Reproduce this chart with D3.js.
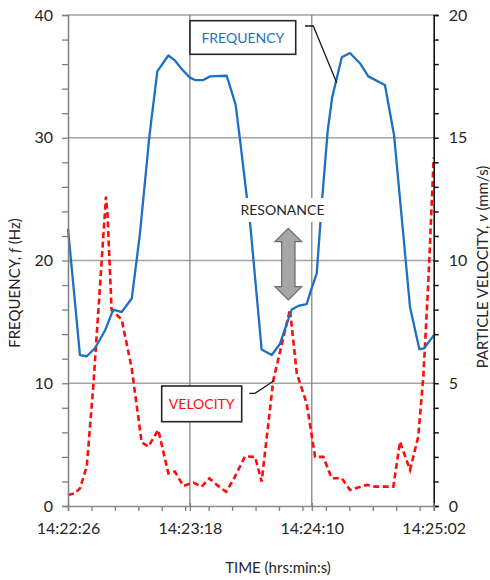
<!DOCTYPE html>
<html>
<head>
<meta charset="utf-8">
<script src="https://cdn.jsdelivr.net/npm/d3@7"></script>
<style>
    body { margin: 0; background: #fff; }
    text { font-family: Lato, "Open Sans", sans-serif; }
</style>
</head>
<body>
<div class="resonanceChart"></div>
<script>
// times are seconds after 14:22:26
var freqTimes = [0, 5.1, 8.0, 11.5, 15.8, 19.3, 22.9, 27.2, 30.7, 34.7, 38.1, 42.8, 45.6, 48.5, 52.0, 54.2,
    57.7, 60.6, 67.7, 71.5, 73.4, 76.2, 77.6, 82.6, 86.9, 90.4, 95.4, 98.2, 101.8, 103.7, 106.1, 108.5,
    110.8, 112.7, 116.8, 120.3, 124.6, 128.1, 135.2, 139.1, 145.9, 149.9, 151.9, 156];
var freqValues = [22.6, 12.3, 12.2, 12.85, 14.3, 16.0, 15.8, 16.9, 22.2, 30.1, 35.4, 36.7, 36.3, 35.6, 34.9, 34.7,
    34.7, 35.0, 35.05, 32.7, 29.8, 25.3, 23.2, 12.75, 12.3, 13.2, 16.0, 16.3, 16.45, 17.6, 18.96, 25.2,
    30.6, 33.3, 36.55, 36.9, 36.05, 35.0, 34.3, 30.2, 16.2, 12.77, 12.85, 13.9];

var velTimes = [0, 3.0, 5.1, 8.0, 10.8, 16.2, 16.9, 18.6, 22.9, 27.2, 31.4, 34.3, 38.5, 42.8, 45.6, 49.2,
    53.5, 57.0, 60.3, 63.6, 67.4, 70.5, 75.5, 79.8, 82.6, 87.6, 94.7, 97.6, 101.8, 105.4, 108.9, 112.5,
    116.8, 120.3, 127.4, 131.0, 138.8, 141.6, 145.9, 149.4, 151.6, 153.7, 156];
var velValues = [0.45, 0.52, 0.72, 1.6, 4.9, 12.6, 11.8, 7.98, 7.6, 5.6, 2.6, 2.42, 3.1, 1.33, 1.4, 0.82,
    0.95, 0.79, 1.13, 0.85, 0.58, 1.06, 2.02, 2.0, 0.99, 5.13, 8.0, 5.4, 4.18, 2.0, 2.0, 1.13,
    1.13, 0.65, 0.86, 0.79, 0.79, 2.62, 1.47, 2.82, 5.3, 9.1, 14.2];

var timeLabels = ["14:22:26", "14:23:18", "14:24:10", "14:25:02"];
var freqTicks = [0, 10, 20, 30, 40];
var velTicks = [0, 5, 10, 15, 20];

document.addEventListener('DOMContentLoaded', function() {
    resonanceChart();
})

function resonanceChart(){

    var margin = {top: 15, right: 56.3, bottom: 74, left: 68},
        width = 490 - margin.left - margin.right,
        height = 580 - margin.top - margin.bottom;

    var blue = "#1f70c1", red = "#ff0d0d", ink = "#262626";

    var root = d3.select(".resonanceChart")
        .append("svg")
            .attr("width", 490)
            .attr("height", 580);
    var svg = root.append("g")
            .attr("transform", "translate(" + margin.left + "," + margin.top + ")");

    var parseTime = d3.timeParse("%H:%M:%S");
    var start = parseTime(timeLabels[0]);
    function toDate(t) { return new Date(+start + t * 1000); }

    var freqData = freqTimes.map(function(t, i) { return {date: toDate(t), value: freqValues[i]}; });
    var velData = velTimes.map(function(t, i) { return {date: toDate(t), value: velValues[i]}; });
    var majorDates = timeLabels.map(parseTime);
    var minorDates = d3.range(10, 156, 10).map(toDate);

    var x = d3.scaleTime()
        .domain([start, majorDates[majorDates.length - 1]])
        .range([0, width]);
    var yFreq = d3.scaleLinear()
        .domain([0, d3.max(freqTicks)])
        .range([height, 0]);
    var yVel = d3.scaleLinear()
        .domain([0, d3.max(velTicks)])
        .range([height, 0]);

    // gridlines
    svg.selectAll(".hgrid")
        .data(freqTicks.slice(1))
        .enter().append("line")
            .attr("x1", 0).attr("x2", width)
            .attr("y1", function(d) { return yFreq(d); })
            .attr("y2", function(d) { return yFreq(d); })
            .attr("stroke", "#a3a3a3")
            .attr("stroke-width", 1.5);
    svg.selectAll(".vgrid")
        .data(majorDates.slice(1, -1))
        .enter().append("line")
            .attr("x1", function(d) { return x(d); })
            .attr("x2", function(d) { return x(d); })
            .attr("y1", 0).attr("y2", height)
            .attr("stroke", "#7a7a7a")
            .attr("stroke-width", 1.2);

    // lines
    var freqLine = d3.line()
        .x(function(d) { return x(d.date); })
        .y(function(d) { return yFreq(d.value); });
    var velLine = d3.line()
        .x(function(d) { return x(d.date); })
        .y(function(d) { return yVel(d.value); });

    svg.append("path")
        .attr("fill", "none")
        .attr("stroke", red)
        .attr("stroke-width", 2.6)
        .attr("stroke-dasharray", "6,3.5")
        .attr("d", velLine(velData));
    svg.append("path")
        .attr("fill", "none")
        .attr("stroke", blue)
        .attr("stroke-width", 2.3)
        .attr("stroke-linejoin", "round")
        .attr("d", freqLine(freqData));

    // axes
    var majorFreq = function(d) { return d % 10 === 0 ? d : ""; };
    var left = svg.append("g")
        .call(d3.axisLeft(yFreq).tickValues(d3.range(0, 41, 2)).tickFormat(majorFreq).tickSize(6).tickPadding(9));
    left.select(".domain").attr("stroke", "#7f7f7f").attr("stroke-width", 1.5);
    left.selectAll(".tick line").attr("stroke", "#7f7f7f").attr("stroke-width", 1.3);
    left.selectAll("text").attr("font-size", 16).attr("fill", ink).attr("font-family", "Lato");

    var right = svg.append("g")
        .attr("transform", "translate(" + width + ",0)")
        .call(d3.axisRight(yVel).tickValues(d3.range(0, 21, 1)).tickFormat(function(d) { return d % 5 === 0 ? d : ""; }).tickSize(5).tickPadding(10));
    right.select(".domain").attr("stroke", "#111").attr("stroke-width", 1.6);
    right.selectAll(".tick line").attr("stroke", "#111").attr("stroke-width", 1.5);
    right.selectAll("text").attr("font-size", 16).attr("fill", ink).attr("font-family", "Lato");

    var fmt = d3.timeFormat("%H:%M:%S");
    var bottom = svg.append("g")
        .attr("transform", "translate(0," + height + ")")
        .call(d3.axisBottom(x).tickValues(minorDates.concat(majorDates))
            .tickFormat(function(d) { return timeLabels.indexOf(fmt(d)) >= 0 ? fmt(d) : ""; })
            .tickSize(5).tickPadding(12));
    bottom.select(".domain").attr("stroke", "#8a8a8a").attr("stroke-width", 1.5);
    bottom.selectAll(".tick line").attr("stroke", "#7f7f7f").attr("stroke-width", 1.3)
        .attr("y1", function(d) { return timeLabels.indexOf(fmt(d)) >= 0 ? -3 : 0; });
    bottom.selectAll("text").attr("font-size", 16).attr("fill", ink).attr("font-family", "Lato");

    // axis titles
    var yt = root.append("text")
        .attr("transform", "translate(20,283) rotate(-90)")
        .attr("text-anchor", "middle")
        .attr("font-size", 15).attr("fill", ink);
    yt.append("tspan").text("FREQUENCY, ");
    yt.append("tspan").attr("font-style", "italic").text("f");
    yt.append("tspan").text(" (Hz)");

    var vt = root.append("text")
        .attr("transform", "translate(488,267) rotate(-90)")
        .attr("text-anchor", "middle")
        .attr("font-size", 15).attr("fill", ink);
    vt.append("tspan").text("PARTICLE VELOCITY, ");
    vt.append("tspan").attr("font-style", "italic").text("v");
    vt.append("tspan").text(" (mm/s)");

    root.append("text")
        .attr("x", 278).attr("y", 573)
        .attr("text-anchor", "middle")
        .attr("font-size", 15).attr("fill", ink)
        .text("TIME (hrs:min:s)");

    // callouts
    function callout(box, label, color, leader) {
        root.append("path")
            .attr("d", d3.line()(leader))
            .attr("fill", "none")
            .attr("stroke", "#1a1a1a")
            .attr("stroke-width", 1.3);
        root.append("rect")
            .attr("x", box[0]).attr("y", box[1])
            .attr("width", box[2]).attr("height", box[3])
            .attr("fill", "#fff")
            .attr("stroke", "#262626")
            .attr("stroke-width", 1.6);
        root.append("text")
            .attr("x", box[0] + box[2] / 2)
            .attr("y", box[1] + box[3] / 2)
            .attr("dy", "0.36em")
            .attr("text-anchor", "middle")
            .attr("font-size", 14)
            .attr("fill", color)
            .text(label);
    }
    callout([190, 20.7, 105.7, 33.6], "FREQUENCY", blue, [[305, 26], [313.3, 26], [336.7, 82.7]]);
    callout([161.7, 386, 80, 35.7], "VELOCITY", red, [[249.3, 393.3], [255, 393.3], [274, 380.7]]);

    root.append("rect")
        .attr("x", 238).attr("y", 198)
        .attr("width", 89).attr("height", 24)
        .attr("fill", "#fff");
    root.append("text")
        .attr("x", 282.5).attr("y", 210)
        .attr("dy", "0.36em")
        .attr("text-anchor", "middle")
        .attr("font-size", 14)
        .attr("fill", ink)
        .text("RESONANCE");

    root.append("path")
        .attr("d", "M288.3,228.3L301.7,241.7L295,241.7L295,286.7L301.7,286.7L288.3,300L275,286.7L281.7,286.7L281.7,241.7L275,241.7Z")
        .attr("fill", "#a6a6a6")
        .attr("stroke", "#6a6a6a")
        .attr("stroke-width", 1.2);
}
</script>
</body>
</html>
